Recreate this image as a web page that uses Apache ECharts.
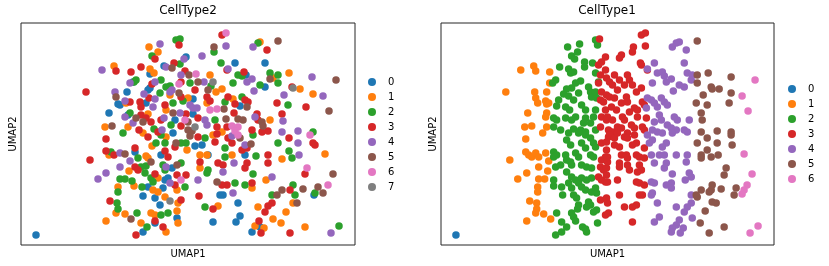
<!DOCTYPE html>
<html>
<head>
<meta charset="utf-8">
<script src="https://cdn.jsdelivr.net/npm/echarts@6/dist/echarts.min.js"></script>
<style>
  html, body { margin: 0; padding: 0; background: #fff; }
  #main { width: 829px; height: 266px; }
</style>
</head>
<body>
<div id="main"></div>
<script>
// UMAP coordinates (arbitrary units, plot box = 334 x 222)
var palette = ['#1f77b4', '#ff7f0e', '#2ca02c', '#d62728', '#9467bd', '#8c564b', '#e377c2', '#7f7f7f'];
var cats2 = ['0', '1', '2', '3', '4', '5', '6', '7'];
var cats1 = ['0', '1', '2', '3', '4', '5', '6'];

// CellType2 panel
var ct2_0 = [[165,188],[143,179],[129,171],[112,163],[129,157],[127,155],[106,153],[97,141],[99,140],[125,142],[88,132],[107,130],[154,125],[152,112],[214,182],[244,182],[225,170],[244,158],[172,146],[219,139],[172,131],[114,93],[140,90],[151,77],[144,65],[147,67],[127,58],[142,57],[122,49],[134,47],[139,40],[134,22],[156,27],[122,13],[15,10],[174,99],[181,100],[187,90],[224,90],[199,50],[202,50],[217,42],[219,29],[215,23],[192,23],[239,18],[231,13],[293,50]];
var ct2_1 = [[128,198],[137,193],[93,179],[129,176],[133,172],[149,150],[167,147],[105,142],[145,135],[127,131],[84,118],[107,118],[122,112],[239,203],[252,167],[268,172],[189,170],[195,153],[201,156],[279,156],[292,151],[212,146],[186,142],[249,125],[201,113],[145,108],[88,90],[131,99],[125,89],[127,87],[108,74],[137,67],[97,58],[113,59],[132,55],[137,53],[156,55],[144,48],[157,42],[95,32],[104,31],[130,32],[134,30],[156,34],[85,24],[157,22],[120,22],[145,13],[192,110],[166,95],[179,90],[186,90],[211,90],[261,86],[304,91],[179,77],[245,65],[231,57],[197,39],[237,38],[272,42],[265,33],[252,26],[260,22],[234,19],[243,17],[284,18]];
var ct2_2 = [[155,205],[159,206],[131,189],[159,181],[115,165],[113,163],[140,165],[145,158],[149,159],[139,152],[162,144],[152,142],[109,132],[150,120],[133,116],[102,112],[193,193],[237,202],[200,182],[217,170],[221,169],[249,172],[257,170],[169,162],[190,159],[212,162],[257,162],[239,160],[221,148],[204,143],[267,140],[194,125],[292,113],[140,110],[135,102],[144,102],[160,102],[165,102],[90,93],[117,87],[120,78],[125,79],[142,80],[144,75],[160,82],[99,66],[104,66],[111,64],[124,72],[130,67],[132,63],[97,53],[121,58],[164,58],[96,42],[97,36],[116,32],[140,30],[147,32],[126,18],[184,107],[232,110],[257,102],[204,97],[204,88],[235,89],[271,87],[268,94],[187,75],[186,72],[232,71],[214,62],[224,60],[272,60],[294,52],[274,50],[251,50],[184,38],[318,19]];
var ct2_3 = [[158,200],[134,186],[95,174],[110,173],[120,178],[153,182],[164,174],[160,163],[131,161],[65,153],[160,148],[109,143],[119,143],[120,138],[128,147],[144,140],[165,131],[120,130],[125,127],[130,123],[140,125],[160,119],[118,115],[137,113],[201,210],[246,195],[206,175],[223,173],[174,155],[271,158],[186,148],[189,144],[207,148],[224,145],[227,143],[214,141],[256,142],[285,138],[213,132],[261,131],[236,131],[237,125],[177,127],[196,118],[206,118],[231,115],[247,114],[85,106],[127,108],[85,94],[93,90],[114,97],[144,94],[154,98],[147,88],[69,85],[114,78],[117,75],[134,71],[156,70],[165,70],[154,60],[89,44],[160,45],[134,24],[142,18],[115,10],[177,108],[196,111],[194,103],[207,107],[211,102],[241,113],[268,107],[294,100],[292,102],[221,95],[226,97],[247,90],[179,83],[197,82],[202,80],[226,82],[224,77],[247,82],[284,71],[206,60],[201,60],[231,62],[269,55],[178,49],[192,36],[251,42],[247,39],[244,33],[238,24],[240,12],[269,12]];
var ct2_4 = [[139,201],[163,186],[81,175],[145,178],[160,170],[109,162],[134,163],[151,155],[94,153],[123,151],[149,153],[104,144],[134,146],[132,138],[159,132],[104,128],[112,122],[143,127],[141,115],[205,199],[232,198],[181,189],[207,176],[183,163],[226,163],[231,166],[291,168],[233,154],[263,150],[302,149],[169,140],[172,137],[176,137],[234,128],[262,124],[184,125],[186,120],[261,113],[277,114],[99,92],[109,84],[99,78],[145,78],[85,72],[77,66],[149,62],[211,109],[277,102],[224,100],[278,90],[213,82],[202,73],[251,68],[177,65],[212,52],[310,12]];
var ct2_5 = [[151,177],[168,170],[158,152],[95,148],[152,132],[115,127],[122,123],[91,119],[167,115],[193,198],[257,204],[249,166],[315,165],[177,163],[187,155],[308,134],[203,136],[226,138],[217,126],[222,125],[167,123],[205,126],[241,123],[242,119],[171,114],[155,102],[104,91],[130,83],[156,80],[110,26],[169,109],[219,107],[230,101],[196,63],[261,55],[256,50],[282,56],[297,58],[302,52],[276,42],[312,71]];
var ct2_6 = [[158,161],[164,125],[205,212],[175,171],[189,135],[196,136],[211,119],[217,118],[214,114],[160,65],[217,110],[289,110],[286,77],[307,60]];
var ct2_7 = [[192,163],[272,157],[174,118],[149,44]];

// CellType1 panel
var ct1_0 = [[15,10]];
var ct1_1 = [[80,175],[93,179],[95,174],[109,173],[109,162],[65,153],[94,153],[106,153],[95,147],[97,142],[105,144],[106,141],[108,142],[87,132],[106,132],[105,128],[91,119],[84,118],[106,118],[102,112],[85,106],[69,85],[85,93],[88,90],[91,88],[95,92],[98,88],[105,92],[108,84],[98,78],[107,74],[86,72],[77,66],[98,66],[104,66],[97,58],[97,53],[89,44],[96,42],[96,36],[95,32],[103,31],[110,26],[86,24]];
var ct1_2 = [[155,205],[157,200],[127,198],[139,201],[137,193],[131,189],[134,186],[144,183],[144,178],[152,182],[119,178],[128,176],[130,172],[133,173],[155,172],[158,163],[115,165],[112,162],[140,164],[135,162],[131,157],[148,158],[150,153],[151,148],[126,156],[123,151],[128,149],[138,152],[155,153],[156,147],[118,145],[116,139],[133,145],[141,140],[145,135],[125,138],[129,135],[155,135],[153,128],[113,127],[116,125],[125,127],[131,125],[135,128],[145,127],[150,122],[113,118],[120,115],[133,116],[140,115],[145,113],[155,115],[128,112],[143,122],[138,112],[145,110],[126,105],[130,100],[150,107],[153,102],[155,98],[141,102],[145,97],[113,93],[116,90],[113,88],[125,90],[126,85],[135,92],[138,88],[150,90],[153,88],[115,78],[120,80],[130,83],[131,80],[141,80],[146,78],[151,77],[126,73],[113,65],[113,59],[131,68],[135,65],[138,62],[141,67],[146,65],[151,67],[128,62],[131,57],[121,58],[141,58],[145,55],[151,53],[155,57],[156,52],[122,50],[133,50],[136,47],[148,43],[150,40],[146,38],[138,40],[137,36],[156,35],[116,32],[131,32],[133,28],[153,33],[135,24],[121,23],[157,22],[126,18],[142,18],[145,16],[146,13],[121,13],[115,10]];
var ct1_3 = [[159,206],[165,188],[161,183],[158,180],[165,175],[160,170],[166,167],[158,162],[161,153],[166,150],[160,145],[163,143],[165,135],[161,128],[166,125],[160,118],[168,115],[201,210],[205,212],[193,198],[192,193],[205,199],[181,190],[179,187],[200,182],[201,180],[207,175],[174,170],[179,165],[187,170],[189,165],[184,160],[169,163],[172,160],[192,160],[196,153],[201,157],[177,155],[169,148],[174,147],[186,148],[187,143],[202,143],[204,140],[181,142],[171,138],[176,135],[194,137],[197,135],[189,133],[167,128],[172,125],[182,128],[184,125],[197,128],[206,127],[177,118],[181,117],[191,120],[194,117],[172,113],[202,118],[204,115],[187,112],[161,102],[166,103],[168,108],[161,85],[165,88],[160,78],[163,75],[166,77],[158,68],[161,65],[165,63],[166,70],[160,45],[166,47],[165,30],[168,32],[169,110],[174,107],[177,112],[184,108],[187,107],[194,110],[196,102],[192,100],[174,100],[179,98],[204,97],[166,95],[181,90],[186,90],[187,87],[167,88],[167,83],[196,90],[199,88],[204,87],[179,82],[179,78],[187,80],[189,75],[199,80],[197,73],[201,75],[177,65],[196,63],[199,62],[204,60],[167,63],[179,50],[199,50],[202,50],[167,42],[184,38],[192,38],[196,40],[192,23]];
var ct1_4 = [[232,198],[236,202],[239,203],[246,195],[214,182],[207,176],[244,182],[217,172],[222,173],[224,169],[212,162],[226,163],[231,166],[247,172],[251,165],[252,170],[239,160],[244,158],[233,154],[207,147],[211,145],[214,142],[221,147],[224,143],[227,140],[206,137],[217,138],[219,130],[221,125],[214,123],[234,128],[237,125],[249,125],[227,120],[231,117],[236,115],[212,115],[217,113],[244,115],[247,113],[207,110],[212,105],[209,102],[222,112],[232,112],[226,102],[222,98],[211,90],[219,90],[224,90],[236,90],[247,90],[214,82],[226,82],[224,77],[246,83],[232,71],[249,72],[251,68],[245,65],[211,63],[214,62],[226,60],[231,62],[231,57],[212,52],[211,50],[251,50],[217,42],[236,38],[251,42],[247,38],[244,33],[219,28],[214,23],[239,25],[236,20],[232,17],[231,13],[243,17],[252,27],[240,12]];
var ct1_5 = [[257,204],[257,170],[257,162],[268,172],[291,168],[271,158],[272,156],[279,156],[263,150],[291,152],[256,142],[267,140],[289,142],[261,132],[262,125],[261,113],[277,114],[291,113],[291,110],[292,100],[267,107],[257,102],[277,102],[267,95],[271,88],[261,90],[261,87],[278,90],[286,77],[284,70],[272,60],[271,55],[269,53],[261,55],[256,50],[257,48],[281,56],[296,57],[294,50],[272,43],[276,42],[265,34],[260,22],[284,18],[269,12]];
var ct1_6 = [[315,165],[302,149],[308,134],[304,91],[312,71],[307,60],[304,55],[302,51],[318,19],[310,12]];

var panel2 = [ct2_0, ct2_1, ct2_2, ct2_3, ct2_4, ct2_5, ct2_6, ct2_7];
var panel1 = [ct1_0, ct1_1, ct1_2, ct1_3, ct1_4, ct1_5, ct1_6];

var FONT = 'DejaVu Sans';

function makeAxis(name, isX) {
	return {
		type: 'value',
		min: 0,
		max: isX ? 334 : 222,
		name: name,
		nameLocation: 'middle',
		nameGap: isX ? 4 : 3,
		nameTextStyle: { fontFamily: FONT, fontSize: 10, color: '#000' },
		axisLine: { show: false },
		axisTick: { show: false },
		axisLabel: { show: false },
		splitLine: { show: false }
	};
}

var series = [];
panel2.forEach(function (pts, i) {
	series.push({
		name: cats2[i], type: 'scatter', xAxisIndex: 0, yAxisIndex: 0,
		data: pts, symbolSize: 7.5,
		itemStyle: { color: palette[i], opacity: 1 }
	});
});
panel1.forEach(function (pts, i) {
	series.push({
		name: cats1[i], type: 'scatter', xAxisIndex: 1, yAxisIndex: 1,
		data: pts, symbolSize: 7.5,
		itemStyle: { color: palette[i], opacity: 1 }
	});
});

function makeLegend(names, left, top) {
	return {
		data: names,
		orient: 'vertical',
		left: left,
		top: top,
		icon: 'circle',
		itemWidth: 22,
		itemHeight: 8,
		itemGap: 3,
		textStyle: { fontFamily: FONT, fontSize: 10, color: '#000', lineHeight: 12 }
	};
}

var myChart = echarts.init(document.getElementById('main'));
var option = {
	animation: false,
	backgroundColor: '#fff',
	grid: [
		{ left: 21, top: 23, width: 334, height: 222, show: true, borderColor: '#262626', borderWidth: 1 },
		{ left: 441, top: 23, width: 333, height: 222, show: true, borderColor: '#262626', borderWidth: 1 }
	],
	xAxis: [
		Object.assign(makeAxis('UMAP1', true), { gridIndex: 0 }),
		Object.assign(makeAxis('UMAP1', true), { gridIndex: 1 })
	],
	yAxis: [
		Object.assign(makeAxis('UMAP2', false), { gridIndex: 0 }),
		Object.assign(makeAxis('UMAP2', false), { gridIndex: 1 })
	],
	legend: [
		makeLegend(cats2, 363, 71),
		makeLegend(cats1, 783, 78)
	],
	graphic: [
		{ type: 'text', x: 188, y: 5, style: { text: 'CellType2', fill: '#000', font: '12px "DejaVu Sans"', textAlign: 'center' } },
		{ type: 'text', x: 607, y: 5, style: { text: 'CellType1', fill: '#000', font: '12px "DejaVu Sans"', textAlign: 'center' } }
	],
	series: series
};
myChart.setOption(option);
</script>
</body>
</html>
